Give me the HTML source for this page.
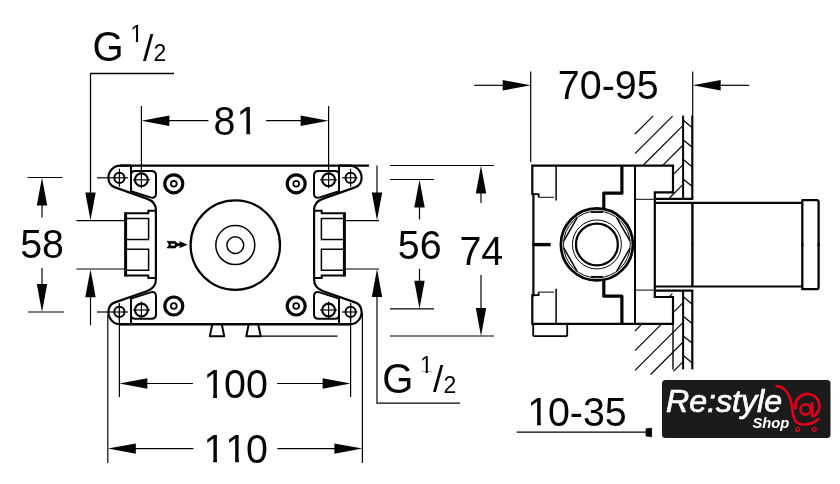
<!DOCTYPE html>
<html><head><meta charset="utf-8"><title>Dimension drawing</title>
<style>
html,body{margin:0;padding:0;background:#fff;}
body{width:840px;height:484px;overflow:hidden;font-family:"Liberation Sans",sans-serif;}
svg{display:block;will-change:transform;font-family:"Liberation Sans",sans-serif;}
</style></head><body>
<svg width="840" height="484" viewBox="0 0 840 484">
<defs><clipPath id="c1_39_4"><rect x="0" y="-28.857" width="21.912" height="25.856"/><rect x="9.715" y="-3.271" width="3.867" height="3.271"/></clipPath><clipPath id="c1_23"><rect x="0" y="-16.846" width="12.792" height="15.094"/><rect x="5.671" y="-1.909" width="2.257" height="1.909"/></clipPath></defs>
<rect width="840" height="484" fill="#fff"/>
<g transform="translate(235.0,244.9) scale(1,1) translate(-235.0,-244.9)">
<path d="M 131,165.6 L 120.3,165.6 A 12,12 0 0 0 108.4,177.6 C 108.4,182.3 110.6,185.9 115,187.4 L 146.8,198.6 Q 155.9,201.8 155.9,210 L 155.9,245" fill="none" stroke="#050505" stroke-width="2.2" stroke-linejoin="round" stroke-linecap="butt" />
<path d="M 131,165.6 L 131,191.2 L 150.5,197.4 Q 156,198.8 156,193.5 L 156,175.5 Q 156,171 151.5,171 L 135,171 Q 131,171 131,175" fill="none" stroke="#050505" stroke-width="2" stroke-linejoin="round" stroke-linecap="butt" />
<circle cx="119.4" cy="177.9" r="5.1" fill="none" stroke="#050505" stroke-width="2.0"/>
<line x1="97" y1="177.8" x2="128" y2="177.8" stroke="#050505" stroke-width="1.2" stroke-linecap="butt"/>
<line x1="119.4" y1="168.8" x2="119.4" y2="186.8" stroke="#050505" stroke-width="1.2" stroke-linecap="butt"/>
<circle cx="141.4" cy="179.8" r="6.4" fill="none" stroke="#050505" stroke-width="2.1"/>
<line x1="133" y1="179.8" x2="150" y2="179.8" stroke="#050505" stroke-width="1.2" stroke-linecap="butt"/>
<line x1="141.4" y1="171.5" x2="141.4" y2="188.3" stroke="#050505" stroke-width="1.2" stroke-linecap="butt"/>
<circle cx="173.8" cy="183.8" r="9.0" fill="none" stroke="#050505" stroke-width="3.2"/>
<circle cx="173.8" cy="183.8" r="2.9" fill="none" stroke="#050505" stroke-width="1.8"/>
</g>
<g transform="translate(235.0,244.4) scale(1,1) translate(-235.0,-244.4)">
<path d="M 155.8,210.8 L 148.3,210.8 L 148.3,213.2 L 126,213.2" fill="none" stroke="#050505" stroke-width="2.0" stroke-linejoin="miter" stroke-linecap="butt" />
<line x1="125.6" y1="212.2" x2="125.6" y2="245" stroke="#050505" stroke-width="3.0" stroke-linecap="butt"/>
<path d="M 126.5,218.5 L 148.6,218.5 L 148.6,239.6 L 126.5,239.6" fill="none" stroke="#050505" stroke-width="1.5" stroke-linejoin="miter" stroke-linecap="butt" />
</g>
<g transform="translate(235.0,244.9) scale(1,-1) translate(-235.0,-244.9)">
<path d="M 131,165.6 L 120.3,165.6 A 12,12 0 0 0 108.4,177.6 C 108.4,182.3 110.6,185.9 115,187.4 L 146.8,198.6 Q 155.9,201.8 155.9,210 L 155.9,245" fill="none" stroke="#050505" stroke-width="2.2" stroke-linejoin="round" stroke-linecap="butt" />
<path d="M 131,165.6 L 131,191.2 L 150.5,197.4 Q 156,198.8 156,193.5 L 156,175.5 Q 156,171 151.5,171 L 135,171 Q 131,171 131,175" fill="none" stroke="#050505" stroke-width="2" stroke-linejoin="round" stroke-linecap="butt" />
<circle cx="119.4" cy="177.9" r="5.1" fill="none" stroke="#050505" stroke-width="2.0"/>
<line x1="97" y1="177.8" x2="128" y2="177.8" stroke="#050505" stroke-width="1.2" stroke-linecap="butt"/>
<line x1="119.4" y1="168.8" x2="119.4" y2="186.8" stroke="#050505" stroke-width="1.2" stroke-linecap="butt"/>
<circle cx="141.4" cy="179.8" r="6.4" fill="none" stroke="#050505" stroke-width="2.1"/>
<line x1="133" y1="179.8" x2="150" y2="179.8" stroke="#050505" stroke-width="1.2" stroke-linecap="butt"/>
<line x1="141.4" y1="171.5" x2="141.4" y2="188.3" stroke="#050505" stroke-width="1.2" stroke-linecap="butt"/>
<circle cx="173.8" cy="183.8" r="9.0" fill="none" stroke="#050505" stroke-width="3.2"/>
<circle cx="173.8" cy="183.8" r="2.9" fill="none" stroke="#050505" stroke-width="1.8"/>
</g>
<g transform="translate(235.0,244.4) scale(1,-1) translate(-235.0,-244.4)">
<path d="M 155.8,210.8 L 148.3,210.8 L 148.3,213.2 L 126,213.2" fill="none" stroke="#050505" stroke-width="2.0" stroke-linejoin="miter" stroke-linecap="butt" />
<line x1="125.6" y1="212.2" x2="125.6" y2="245" stroke="#050505" stroke-width="3.0" stroke-linecap="butt"/>
<path d="M 126.5,218.5 L 148.6,218.5 L 148.6,239.6 L 126.5,239.6" fill="none" stroke="#050505" stroke-width="1.5" stroke-linejoin="miter" stroke-linecap="butt" />
</g>
<g transform="translate(235.0,244.9) scale(-1,1) translate(-235.0,-244.9)">
<path d="M 131,165.6 L 120.3,165.6 A 12,12 0 0 0 108.4,177.6 C 108.4,182.3 110.6,185.9 115,187.4 L 146.8,198.6 Q 155.9,201.8 155.9,210 L 155.9,245" fill="none" stroke="#050505" stroke-width="2.2" stroke-linejoin="round" stroke-linecap="butt" />
<path d="M 131,165.6 L 131,191.2 L 150.5,197.4 Q 156,198.8 156,193.5 L 156,175.5 Q 156,171 151.5,171 L 135,171 Q 131,171 131,175" fill="none" stroke="#050505" stroke-width="2" stroke-linejoin="round" stroke-linecap="butt" />
<circle cx="119.4" cy="177.9" r="5.1" fill="none" stroke="#050505" stroke-width="2.0"/>
<line x1="112.5" y1="177.8" x2="128" y2="177.8" stroke="#050505" stroke-width="1.2" stroke-linecap="butt"/>
<line x1="119.4" y1="168.8" x2="119.4" y2="186.8" stroke="#050505" stroke-width="1.2" stroke-linecap="butt"/>
<circle cx="141.4" cy="179.8" r="6.4" fill="none" stroke="#050505" stroke-width="2.1"/>
<line x1="133" y1="179.8" x2="150" y2="179.8" stroke="#050505" stroke-width="1.2" stroke-linecap="butt"/>
<line x1="141.4" y1="171.5" x2="141.4" y2="188.3" stroke="#050505" stroke-width="1.2" stroke-linecap="butt"/>
<circle cx="173.8" cy="183.8" r="9.0" fill="none" stroke="#050505" stroke-width="3.2"/>
<circle cx="173.8" cy="183.8" r="2.9" fill="none" stroke="#050505" stroke-width="1.8"/>
</g>
<g transform="translate(235.0,244.4) scale(-1,1) translate(-235.0,-244.4)">
<path d="M 155.8,210.8 L 148.3,210.8 L 148.3,213.2 L 126,213.2" fill="none" stroke="#050505" stroke-width="2.0" stroke-linejoin="miter" stroke-linecap="butt" />
<line x1="125.6" y1="212.2" x2="125.6" y2="245" stroke="#050505" stroke-width="3.0" stroke-linecap="butt"/>
<path d="M 126.5,218.5 L 148.6,218.5 L 148.6,239.6 L 126.5,239.6" fill="none" stroke="#050505" stroke-width="1.5" stroke-linejoin="miter" stroke-linecap="butt" />
</g>
<g transform="translate(235.0,244.9) scale(-1,-1) translate(-235.0,-244.9)">
<path d="M 131,165.6 L 120.3,165.6 A 12,12 0 0 0 108.4,177.6 C 108.4,182.3 110.6,185.9 115,187.4 L 146.8,198.6 Q 155.9,201.8 155.9,210 L 155.9,245" fill="none" stroke="#050505" stroke-width="2.2" stroke-linejoin="round" stroke-linecap="butt" />
<path d="M 131,165.6 L 131,191.2 L 150.5,197.4 Q 156,198.8 156,193.5 L 156,175.5 Q 156,171 151.5,171 L 135,171 Q 131,171 131,175" fill="none" stroke="#050505" stroke-width="2" stroke-linejoin="round" stroke-linecap="butt" />
<circle cx="119.4" cy="177.9" r="5.1" fill="none" stroke="#050505" stroke-width="2.0"/>
<line x1="112.5" y1="177.8" x2="128" y2="177.8" stroke="#050505" stroke-width="1.2" stroke-linecap="butt"/>
<line x1="119.4" y1="168.8" x2="119.4" y2="186.8" stroke="#050505" stroke-width="1.2" stroke-linecap="butt"/>
<circle cx="141.4" cy="179.8" r="6.4" fill="none" stroke="#050505" stroke-width="2.1"/>
<line x1="133" y1="179.8" x2="150" y2="179.8" stroke="#050505" stroke-width="1.2" stroke-linecap="butt"/>
<line x1="141.4" y1="171.5" x2="141.4" y2="188.3" stroke="#050505" stroke-width="1.2" stroke-linecap="butt"/>
<circle cx="173.8" cy="183.8" r="9.0" fill="none" stroke="#050505" stroke-width="3.2"/>
<circle cx="173.8" cy="183.8" r="2.9" fill="none" stroke="#050505" stroke-width="1.8"/>
</g>
<g transform="translate(235.0,244.4) scale(-1,-1) translate(-235.0,-244.4)">
<path d="M 155.8,210.8 L 148.3,210.8 L 148.3,213.2 L 126,213.2" fill="none" stroke="#050505" stroke-width="2.0" stroke-linejoin="miter" stroke-linecap="butt" />
<line x1="125.6" y1="212.2" x2="125.6" y2="245" stroke="#050505" stroke-width="3.0" stroke-linecap="butt"/>
<path d="M 126.5,218.5 L 148.6,218.5 L 148.6,239.6 L 126.5,239.6" fill="none" stroke="#050505" stroke-width="1.5" stroke-linejoin="miter" stroke-linecap="butt" />
</g>
<line x1="120" y1="165.6" x2="369" y2="165.6" stroke="#050505" stroke-width="2.2" stroke-linecap="butt"/>
<line x1="120" y1="324.2" x2="350" y2="324.2" stroke="#050505" stroke-width="2.4" stroke-linecap="butt"/>
<circle cx="235.3" cy="245.1" r="44.7" fill="none" stroke="#050505" stroke-width="2.3"/>
<circle cx="235.3" cy="245.1" r="19.5" fill="none" stroke="#050505" stroke-width="1.5"/>
<circle cx="235.3" cy="245.1" r="8.4" fill="none" stroke="#050505" stroke-width="1.5"/>
<path d="M167.3,241.4 L175.2,241.4 L177.2,243.5 L180.5,243.5 L180.5,245.8 L177.2,245.8 L175.2,247.9 L167.3,247.9 L169.2,244.65 Z" fill="#050505" stroke="#050505" stroke-width="0.8" stroke-linejoin="miter" stroke-linecap="butt" />
<rect x="171" y="243.7" width="3.8" height="1.9" fill="#fff"/>
<polygon points="187.6,244.65 179.2,241.0 180.6,244.65 179.2,248.3" fill="#050505"/>
<path d="M212.3,324.2 L209.8,336.3 L224.2,336.3 L221.8,324.2" fill="none" stroke="#050505" stroke-width="2.0" stroke-linejoin="round" stroke-linecap="butt" />
<path d="M248.7,324.2 L246.3,336.3 L260.7,336.3 L258.2,324.2" fill="none" stroke="#050505" stroke-width="2.0" stroke-linejoin="round" stroke-linecap="butt" />
<line x1="260.5" y1="336.2" x2="337.5" y2="336.2" stroke="#050505" stroke-width="1.2" stroke-linecap="butt"/>
<line x1="90.2" y1="73.5" x2="174" y2="73.5" stroke="#050505" stroke-width="1.3" stroke-linecap="butt"/>
<line x1="90.5" y1="73.5" x2="90.5" y2="195" stroke="#050505" stroke-width="1.3" stroke-linecap="butt"/>
<polygon points="90.5,220.4 85.3,192.4 95.7,192.4" fill="#050505"/>
<line x1="76.5" y1="220.7" x2="125" y2="220.7" stroke="#050505" stroke-width="1.2" stroke-linecap="butt"/>
<line x1="76.5" y1="269.0" x2="125" y2="269.0" stroke="#050505" stroke-width="1.2" stroke-linecap="butt"/>
<polygon points="90.5,269.2 95.7,297.2 85.3,297.2" fill="#050505"/>
<line x1="90.5" y1="296.2" x2="90.5" y2="325.2" stroke="#050505" stroke-width="1.2" stroke-linecap="butt"/>
<line x1="27.5" y1="177.5" x2="62.5" y2="177.5" stroke="#050505" stroke-width="1.2" stroke-linecap="butt"/>
<polygon points="42,177.5 47.2,205.5 36.8,205.5" fill="#050505"/>
<line x1="42" y1="204.5" x2="42" y2="217.5" stroke="#050505" stroke-width="1.2" stroke-linecap="butt"/>
<line x1="28" y1="312" x2="64" y2="312" stroke="#050505" stroke-width="1.2" stroke-linecap="butt"/>
<polygon points="42,312 36.8,284.0 47.2,284.0" fill="#050505"/>
<line x1="42" y1="285" x2="42" y2="268" stroke="#050505" stroke-width="1.2" stroke-linecap="butt"/>
<text transform="translate(20.19,258.4) scale(1,1.04)" font-size="39.4" fill="#050505">58</text>
<line x1="141.4" y1="106" x2="141.4" y2="172" stroke="#050505" stroke-width="1.2" stroke-linecap="butt"/>
<line x1="328.6" y1="106" x2="328.6" y2="172" stroke="#050505" stroke-width="1.2" stroke-linecap="butt"/>
<polygon points="141.4,120.7 169.4,115.5 169.4,125.9" fill="#050505"/>
<line x1="168.4" y1="120.7" x2="208.4" y2="120.7" stroke="#050505" stroke-width="1.2" stroke-linecap="butt"/>
<polygon points="328.6,120.7 300.6,125.9 300.6,115.5" fill="#050505"/>
<line x1="301.6" y1="120.7" x2="266.1" y2="120.7" stroke="#050505" stroke-width="1.2" stroke-linecap="butt"/>
<text transform="translate(213.39,134.5) scale(1,1.04)" font-size="39.4" fill="#050505">8</text>
<text transform="translate(236.6,134.5) scale(1,1.04)" font-size="39.4" fill="#050505" clip-path="url(#c1_39_4)">1</text>
<line x1="119.4" y1="304" x2="119.4" y2="397" stroke="#050505" stroke-width="1.2" stroke-linecap="butt"/>
<line x1="350.6" y1="304" x2="350.6" y2="397" stroke="#050505" stroke-width="1.2" stroke-linecap="butt"/>
<polygon points="119.4,383.5 147.4,378.3 147.4,388.7" fill="#050505"/>
<line x1="146.4" y1="383.5" x2="192.9" y2="383.5" stroke="#050505" stroke-width="1.2" stroke-linecap="butt"/>
<polygon points="350.6,383.5 322.6,388.7 322.6,378.3" fill="#050505"/>
<line x1="323.6" y1="383.5" x2="277.1" y2="383.5" stroke="#050505" stroke-width="1.2" stroke-linecap="butt"/>
<text transform="translate(203.44,397.9) scale(1,1.04)" font-size="39.4" fill="#050505" clip-path="url(#c1_39_4)">1</text>
<text transform="translate(224.05,397.9) scale(1,1.04)" font-size="39.4" fill="#050505">00</text>
<line x1="107.8" y1="315" x2="107.8" y2="463" stroke="#050505" stroke-width="1.2" stroke-linecap="butt"/>
<line x1="362.4" y1="313" x2="362.4" y2="463" stroke="#050505" stroke-width="1.2" stroke-linecap="butt"/>
<polygon points="107.8,448.6 135.8,443.40000000000003 135.8,453.8" fill="#050505"/>
<line x1="134.8" y1="448.6" x2="193.3" y2="448.6" stroke="#050505" stroke-width="1.2" stroke-linecap="butt"/>
<polygon points="362.4,448.6 334.4,453.8 334.4,443.40000000000003" fill="#050505"/>
<line x1="335.4" y1="448.6" x2="277.4" y2="448.6" stroke="#050505" stroke-width="1.2" stroke-linecap="butt"/>
<text transform="translate(203.44,462.5) scale(1,1.04)" font-size="39.4" fill="#050505" clip-path="url(#c1_39_4)">1</text>
<text transform="translate(225.35,462.5) scale(1,1.04)" font-size="39.4" fill="#050505" clip-path="url(#c1_39_4)">1</text>
<text transform="translate(245.95,462.5) scale(1,1.04)" font-size="39.4" fill="#050505">0</text>
<line x1="345" y1="220.7" x2="379" y2="220.7" stroke="#050505" stroke-width="1.2" stroke-linecap="butt"/>
<line x1="345" y1="269.0" x2="379" y2="269.0" stroke="#050505" stroke-width="1.2" stroke-linecap="butt"/>
<line x1="377" y1="165.5" x2="377" y2="195" stroke="#050505" stroke-width="1.2" stroke-linecap="butt"/>
<polygon points="377,220.4 371.8,192.4 382.2,192.4" fill="#050505"/>
<polygon points="377,269.0 382.2,297.0 371.8,297.0" fill="#050505"/>
<line x1="377" y1="295" x2="377" y2="403" stroke="#050505" stroke-width="1.2" stroke-linecap="butt"/>
<line x1="376.4" y1="403.1" x2="460" y2="403.1" stroke="#050505" stroke-width="1.3" stroke-linecap="butt"/>
<line x1="390" y1="179.5" x2="434" y2="179.5" stroke="#050505" stroke-width="1.2" stroke-linecap="butt"/>
<line x1="390" y1="308.8" x2="434" y2="308.8" stroke="#050505" stroke-width="1.2" stroke-linecap="butt"/>
<polygon points="419.5,179.5 424.7,207.5 414.3,207.5" fill="#050505"/>
<line x1="419.5" y1="206.5" x2="419.5" y2="219.5" stroke="#050505" stroke-width="1.2" stroke-linecap="butt"/>
<polygon points="419.5,308.8 414.3,280.8 424.7,280.8" fill="#050505"/>
<line x1="419.5" y1="281.8" x2="419.5" y2="268.8" stroke="#050505" stroke-width="1.2" stroke-linecap="butt"/>
<text transform="translate(397.74,258.6) scale(1,1.04)" font-size="39.4" fill="#050505">56</text>
<line x1="390" y1="165.5" x2="494" y2="165.5" stroke="#050505" stroke-width="1.2" stroke-linecap="butt"/>
<line x1="390" y1="336.0" x2="494" y2="336.0" stroke="#050505" stroke-width="1.2" stroke-linecap="butt"/>
<polygon points="481,165.5 486.2,193.5 475.8,193.5" fill="#050505"/>
<line x1="481" y1="192.5" x2="481.0" y2="203.0" stroke="#050505" stroke-width="1.2" stroke-linecap="butt"/>
<polygon points="481,336.0 475.8,308.0 486.2,308.0" fill="#050505"/>
<line x1="481" y1="309.0" x2="481" y2="275.0" stroke="#050505" stroke-width="1.2" stroke-linecap="butt"/>
<text transform="translate(459.39,264.7) scale(1,1.04)" font-size="39.4" fill="#050505">74</text>
<text transform="translate(92.5,61.2) scale(1,1.04)" font-size="40" fill="#050505">G</text>
<text transform="translate(130.16,41.900000000000006) scale(1,1.04)" font-size="23" fill="#050505" clip-path="url(#c1_23)">1</text>
<text x="143.1" y="60.900000000000006" font-size="37" fill="#050505">/</text>
<text transform="translate(153.6,61.2) scale(1,1.04)" font-size="23" fill="#050505">2</text>
<text transform="translate(382.3,392.5) scale(1,1.04)" font-size="40" fill="#050505">G</text>
<text transform="translate(419.96,373.2) scale(1,1.04)" font-size="23" fill="#050505" clip-path="url(#c1_23)">1</text>
<text x="432.90000000000003" y="392.2" font-size="37" fill="#050505">/</text>
<text transform="translate(443.40000000000003,392.5) scale(1,1.04)" font-size="23" fill="#050505">2</text>
<g transform="translate(0,244.7) scale(1,1) translate(0,-244.7)">
<path d="M 532.3,245 L 533.4,245 L 533.4,194 L 532.3,194 L 532.3,165.6 L 673,165.6 L 673,192.4 L 654.8,192.4 L 654.8,245" fill="none" stroke="#050505" stroke-width="2.2" stroke-linejoin="miter" stroke-linecap="butt" />
<path d="M 533,194.2 L 538.6,194.2 L 538.6,197.2" fill="none" stroke="#050505" stroke-width="1.8" stroke-linejoin="miter" stroke-linecap="butt" />
<line x1="538.6" y1="197.3" x2="554" y2="197.3" stroke="#050505" stroke-width="1.0" stroke-linecap="butt"/>
<line x1="556.1" y1="165" x2="556.1" y2="200.6" stroke="#050505" stroke-width="1.5" stroke-linecap="butt"/>
<path d="M 621.9,165.6 L 621.9,193.2 L 603.8,193.2 L 603.8,208.5" fill="none" stroke="#050505" stroke-width="3.2" stroke-linejoin="round" stroke-linecap="butt" />
<line x1="635" y1="165.6" x2="635" y2="245" stroke="#050505" stroke-width="2.0" stroke-linecap="butt"/>
<line x1="635.5" y1="199.3" x2="654.5" y2="199.3" stroke="#050505" stroke-width="1.0" stroke-linecap="butt"/>
<line x1="654.8" y1="198.8" x2="693.3" y2="198.8" stroke="#050505" stroke-width="2.2" stroke-linecap="butt"/>
<path d="M 654.8,202.9 L 802.5,202.9" fill="none" stroke="#050505" stroke-width="2.2" stroke-linejoin="round" stroke-linecap="butt" />
<line x1="692.4" y1="203" x2="692.4" y2="245" stroke="#050505" stroke-width="2.4" stroke-linecap="butt"/>
<path d="M 802.3,246 L 802.3,200.2 L 816.6,200.2 Q 818.6,200.2 818.6,202.4 L 818.6,246" fill="none" stroke="#050505" stroke-width="2.3" stroke-linejoin="round" stroke-linecap="butt" />
</g>
<g transform="translate(0,244.7) scale(1,-1) translate(0,-244.7)">
<path d="M 532.3,245 L 533.4,245 L 533.4,194 L 532.3,194 L 532.3,165.6 L 673,165.6 L 673,192.4 L 654.8,192.4 L 654.8,245" fill="none" stroke="#050505" stroke-width="2.2" stroke-linejoin="miter" stroke-linecap="butt" />
<path d="M 533,194.2 L 538.6,194.2 L 538.6,197.2" fill="none" stroke="#050505" stroke-width="1.8" stroke-linejoin="miter" stroke-linecap="butt" />
<line x1="538.6" y1="197.3" x2="554" y2="197.3" stroke="#050505" stroke-width="1.0" stroke-linecap="butt"/>
<line x1="556.1" y1="165" x2="556.1" y2="200.6" stroke="#050505" stroke-width="1.5" stroke-linecap="butt"/>
<path d="M 621.9,165.6 L 621.9,193.2 L 603.8,193.2 L 603.8,208.5" fill="none" stroke="#050505" stroke-width="3.2" stroke-linejoin="round" stroke-linecap="butt" />
<line x1="635" y1="165.6" x2="635" y2="245" stroke="#050505" stroke-width="2.0" stroke-linecap="butt"/>
<line x1="635.5" y1="199.3" x2="654.5" y2="199.3" stroke="#050505" stroke-width="1.0" stroke-linecap="butt"/>
<line x1="654.8" y1="198.8" x2="693.3" y2="198.8" stroke="#050505" stroke-width="2.2" stroke-linecap="butt"/>
<path d="M 654.8,202.9 L 802.5,202.9" fill="none" stroke="#050505" stroke-width="2.2" stroke-linejoin="round" stroke-linecap="butt" />
<line x1="692.4" y1="203" x2="692.4" y2="245" stroke="#050505" stroke-width="2.4" stroke-linecap="butt"/>
<path d="M 802.3,246 L 802.3,200.2 L 816.6,200.2 Q 818.6,200.2 818.6,202.4 L 818.6,246" fill="none" stroke="#050505" stroke-width="2.3" stroke-linejoin="round" stroke-linecap="butt" />
</g>
<line x1="533.4" y1="244.6" x2="550.6" y2="244.6" stroke="#050505" stroke-width="3.4" stroke-linecap="butt"/>
<path d="M 533.2,324 L 533.2,334.5 Q 533.2,336.2 535,336.2 L 565.5,336.2 Q 567.2,336.2 567.2,334.5 L 567.2,324" fill="none" stroke="#050505" stroke-width="1.8" stroke-linejoin="round" stroke-linecap="butt" />
<circle cx="596.9" cy="244.45" r="36.0" fill="none" stroke="#050505" stroke-width="2.7"/>
<circle cx="596.9" cy="244.45" r="33.4" fill="none" stroke="#050505" stroke-width="1.0"/>
<line x1="629.99" y1="248.11" x2="616.61" y2="271.28" stroke="#050505" stroke-width="1.5" stroke-linecap="butt"/>
<line x1="577.19" y1="271.28" x2="563.81" y2="248.11" stroke="#050505" stroke-width="1.5" stroke-linecap="butt"/>
<line x1="563.81" y1="240.79" x2="577.19" y2="217.62" stroke="#050505" stroke-width="1.5" stroke-linecap="butt"/>
<line x1="616.61" y1="217.62" x2="629.99" y2="240.79" stroke="#050505" stroke-width="1.5" stroke-linecap="butt"/>
<line x1="590.9" y1="212.25" x2="602.9" y2="212.25" stroke="#050505" stroke-width="1.4" stroke-linecap="butt"/>
<line x1="590.9" y1="276.65" x2="602.9" y2="276.65" stroke="#050505" stroke-width="1.4" stroke-linecap="butt"/>
<circle cx="596.9" cy="244.45" r="24.5" fill="none" stroke="#050505" stroke-width="1.0"/>
<circle cx="596.9" cy="244.45" r="20.9" fill="none" stroke="#050505" stroke-width="2.3"/>
<line x1="683.1" y1="115.6" x2="683.1" y2="198.8" stroke="#050505" stroke-width="2.0" stroke-linecap="butt"/>
<line x1="692.3" y1="115.6" x2="692.3" y2="198.8" stroke="#050505" stroke-width="2.2" stroke-linecap="butt"/>
<line x1="683.1" y1="290.6" x2="683.1" y2="369.4" stroke="#050505" stroke-width="2.0" stroke-linecap="butt"/>
<line x1="692.3" y1="290.6" x2="692.3" y2="369.4" stroke="#050505" stroke-width="2.2" stroke-linecap="butt"/>
<line x1="673" y1="323.8" x2="673" y2="369.4" stroke="#050505" stroke-width="1.4" stroke-linecap="butt"/>
<line x1="683.6" y1="120.6" x2="692" y2="127.5" stroke="#050505" stroke-width="1.3" stroke-linecap="butt"/>
<line x1="683.6" y1="140.2" x2="692" y2="147.1" stroke="#050505" stroke-width="1.3" stroke-linecap="butt"/>
<line x1="683.6" y1="159.8" x2="692" y2="166.70000000000002" stroke="#050505" stroke-width="1.3" stroke-linecap="butt"/>
<line x1="683.6" y1="179.4" x2="692" y2="186.3" stroke="#050505" stroke-width="1.3" stroke-linecap="butt"/>
<line x1="683.6" y1="297.0" x2="692" y2="303.9" stroke="#050505" stroke-width="1.3" stroke-linecap="butt"/>
<line x1="683.6" y1="316.6" x2="692" y2="323.5" stroke="#050505" stroke-width="1.3" stroke-linecap="butt"/>
<line x1="683.6" y1="336.20000000000005" x2="692" y2="343.1" stroke="#050505" stroke-width="1.3" stroke-linecap="butt"/>
<line x1="683.6" y1="355.8" x2="692" y2="362.7" stroke="#050505" stroke-width="1.3" stroke-linecap="butt"/>
<line x1="635" y1="134.0" x2="653.2" y2="115.79999999999995" stroke="#050505" stroke-width="1.2" stroke-linecap="butt"/>
<line x1="635" y1="153.70000000000005" x2="672.6" y2="116.10000000000002" stroke="#050505" stroke-width="1.2" stroke-linecap="butt"/>
<line x1="643.4" y1="165.0" x2="682.6" y2="125.79999999999995" stroke="#050505" stroke-width="1.2" stroke-linecap="butt"/>
<line x1="663" y1="165.10000000000002" x2="682.6" y2="145.5" stroke="#050505" stroke-width="1.2" stroke-linecap="butt"/>
<line x1="673.4" y1="174.39999999999998" x2="682.6" y2="165.19999999999993" stroke="#050505" stroke-width="1.2" stroke-linecap="butt"/>
<line x1="669.5" y1="198.0" x2="682.6" y2="184.89999999999998" stroke="#050505" stroke-width="1.2" stroke-linecap="butt"/>
<line x1="668.6" y1="297.4" x2="672.4" y2="293.6" stroke="#050505" stroke-width="1.2" stroke-linecap="butt"/>
<line x1="673.4" y1="312.30000000000007" x2="682.6" y2="303.1" stroke="#050505" stroke-width="1.2" stroke-linecap="butt"/>
<line x1="635" y1="331.0" x2="640.9" y2="325.1" stroke="#050505" stroke-width="1.2" stroke-linecap="butt"/>
<line x1="635" y1="350.70000000000005" x2="661" y2="324.70000000000005" stroke="#050505" stroke-width="1.2" stroke-linecap="butt"/>
<line x1="635" y1="370.4" x2="682.6" y2="322.79999999999995" stroke="#050505" stroke-width="1.2" stroke-linecap="butt"/>
<line x1="650.6" y1="374.4999999999999" x2="682.6" y2="342.4999999999999" stroke="#050505" stroke-width="1.2" stroke-linecap="butt"/>
<line x1="673.4" y1="371.4" x2="682.6" y2="362.19999999999993" stroke="#050505" stroke-width="1.2" stroke-linecap="butt"/>
<line x1="530.7" y1="71.5" x2="530.7" y2="162" stroke="#050505" stroke-width="1.2" stroke-linecap="butt"/>
<line x1="692.7" y1="71.5" x2="692.7" y2="116" stroke="#050505" stroke-width="1.2" stroke-linecap="butt"/>
<polygon points="530.7,85.3 502.70000000000005,90.5 502.70000000000005,80.1" fill="#050505"/>
<line x1="503.70000000000005" y1="85.3" x2="474.20000000000005" y2="85.3" stroke="#050505" stroke-width="1.2" stroke-linecap="butt"/>
<polygon points="692.7,85.3 720.7,80.1 720.7,90.5" fill="#050505"/>
<line x1="719.7" y1="85.3" x2="749.2" y2="85.3" stroke="#050505" stroke-width="1.2" stroke-linecap="butt"/>
<text transform="translate(557.83,99.0) scale(1,1.04)" font-size="39.4" fill="#050505">70-95</text>
<text transform="translate(527.33,425.5) scale(1,1.04)" font-size="39.4" fill="#050505" clip-path="url(#c1_39_4)">1</text>
<text transform="translate(547.93,425.5) scale(1,1.04)" font-size="39.4" fill="#050505">0-35</text>
<line x1="516.7" y1="432.2" x2="648" y2="432.2" stroke="#050505" stroke-width="1.3" stroke-linecap="butt"/>
<path d="M646,428.8 L651.6,428.2 L651.6,436.8 L646,436 Z" fill="#050505" stroke="#050505" stroke-width="0.8" stroke-linejoin="round" stroke-linecap="butt" />
<rect x="662" y="380" width="168.5" height="58" rx="3.5" fill="#1b1b1b"/>
<text x="666" y="411.8" font-size="31" font-style="italic" fill="#fff" stroke="#fff" stroke-width="0.7" textLength="116" lengthAdjust="spacingAndGlyphs">Re:style</text>
<text x="752.4" y="427.8" font-size="14" font-style="italic" font-weight="bold" fill="#fff" textLength="37" lengthAdjust="spacingAndGlyphs">Shop</text>
<path d="M 776.6,386.2 C 784,386.6 789.3,393.5 791.4,403.5 C 793,411.5 792.4,418 796,421.8 C 800,425.8 811.5,425.6 818,419.2" fill="none" stroke="#e0001b" stroke-width="2.7" stroke-linejoin="round" stroke-linecap="round" />
<path d="M 795.6,408.4 A 12,12 0 1 1 816.6,413.6 Q 814.6,417 812.2,416 L 812.2,403.2" fill="none" stroke="#e0001b" stroke-width="2.7" stroke-linejoin="round" stroke-linecap="round" />
<circle cx="805.6" cy="409.4" r="5.1" fill="none" stroke="#e0001b" stroke-width="2.6"/>
<circle cx="797.6" cy="429.3" r="1.9" fill="none" stroke="#e0001b" stroke-width="1.4"/>
<circle cx="814.2" cy="429.3" r="1.9" fill="none" stroke="#e0001b" stroke-width="1.4"/>
</svg>
</body></html>
